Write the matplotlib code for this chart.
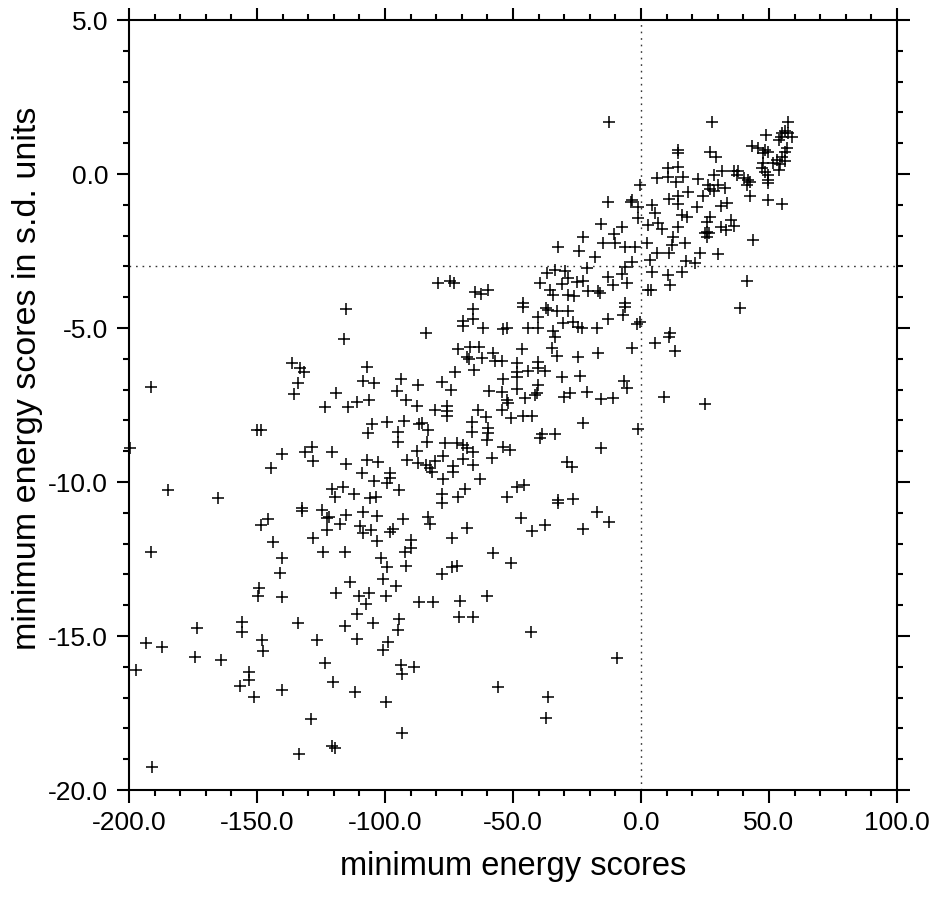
import matplotlib
matplotlib.use("Agg")
import matplotlib.pyplot as plt
from matplotlib.ticker import MultipleLocator, FormatStrFormatter

plt.rcParams['font.family'] = ['Liberation Sans', 'DejaVu Sans']

points = [
    # region 1
    (-136.5,-6.15),(-133.2,-6.31),(-131.5,-6.44),(-134.1,-6.80),(-135.4,-7.15),(-191.4,-6.93),(-150.1,-8.31),(-148.4,-8.31),
    (-140.1,-9.10),(-128.7,-8.85),(-131.3,-9.04),(-128.0,-9.32),(-144.7,-9.53),(-184.6,-10.26),(-165.4,-10.53),(-132.6,-10.85),
    (-132.6,-10.94),(-145.8,-11.21),(-148.4,-11.40),(-128.0,-11.81),(-143.9,-11.96),(-191.4,-12.28),(-140.1,-12.46),(-199.6,-8.90),
    # region 2
    (-141.0,-12.97),(-149.1,-13.45),(-149.5,-13.70),(-140.1,-13.72),(-173.6,-14.75),(-156.0,-14.53),(-156.0,-14.86),(-133.9,-14.57),
    (-193.5,-15.24),(-187.0,-15.35),(-148.2,-15.13),(-147.8,-15.49),(-126.7,-15.13),(-174.2,-15.67),(-164.2,-15.78),(-197.3,-16.10),
    (-153.0,-16.16),(-153.1,-16.43),(-156.6,-16.61),(-151.0,-16.99),(-140.4,-16.75),(-128.9,-17.69),(-133.5,-18.83),(-191.1,-19.26),
    # region 3
    (-79.2,-3.55),(-74.6,-3.49),(-73.0,-3.55),(-64.9,-3.82),(-62.5,-3.90),(-59.6,-3.77),(-115.2,-4.39),(-65.5,-4.39),(-65.8,-4.72),
    (-69.4,-4.76),(-69.4,-4.93),(-61.9,-5.00),(-53.8,-5.04),(-52.5,-5.00),(-84.0,-5.17),
    # region 4
    (-116.0,-5.36),(-71.4,-5.68),(-66.8,-5.61),(-63.2,-5.61),(-68.1,-5.93),(-67.1,-6.01),(-62.0,-5.98),(-57.9,-5.82),(-57.0,-6.07),
    (-54.4,-6.07),(-107.2,-6.28),(-72.7,-6.44),(-65.2,-6.36),(-108.5,-6.71),(-104.3,-6.80),(-93.9,-6.67),(-87.0,-6.85),(-77.9,-6.74),
    (-74.2,-7.01),(-53.8,-6.67),(-59.2,-7.05),(-54.4,-7.09),(-52.5,-7.34),(-51.8,-7.45),(-119.1,-7.10),(-123.4,-7.55),(-114.3,-7.55),
    (-110.8,-7.39),(-106.1,-7.34),(-95.4,-7.03),(-91.8,-7.34),(-87.6,-7.53),(-80.5,-7.66),(-75.9,-7.52),(-75.9,-7.69),(-75.9,-7.85),
    (-63.5,-7.66),(-60.7,-7.88),(-54.4,-7.66),(-50.9,-7.93),(-66.2,-8.06),(-66.2,-8.39),(-59.6,-8.26),(-59.6,-8.42),(-60.3,-8.64),
    (-105.2,-8.13),(-106.8,-8.40),(-99.4,-8.06),(-92.6,-8.02),(-86.7,-8.13),(-85.4,-8.09),(-83.1,-8.31),(-94.8,-8.37),(-94.8,-8.71),
    (-83.5,-8.69),(-76.6,-8.74),(-72.0,-8.74),(-69.7,-8.80),(-68.1,-8.91),(-65.5,-9.04),(-53.8,-8.85),(-51.2,-8.96),(-120.8,-9.04),
    (-115.2,-9.43),(-107.2,-9.29),(-102.6,-9.34),(-91.3,-9.29),(-87.4,-8.99),(-87.0,-9.39),(-84.0,-9.45),(-82.4,-9.56),(-81.8,-9.66),
    (-80.5,-9.32),(-77.2,-9.14),(-73.3,-9.48),(-73.3,-9.69),(-69.4,-9.25),(-65.8,-9.45),(-58.3,-9.21),(-109.1,-9.72),(-104.3,-9.97),
    (-98.1,-9.72),(-98.1,-9.88),(-99.4,-10.04),(-94.5,-10.26),(-77.5,-9.90),(-62.9,-9.90),(-120.8,-10.23),(-119.5,-10.48),
    (-116.3,-10.15),(-112.0,-10.39),(-105.9,-10.53),(-103.5,-10.48),(-77.9,-10.40),(-77.9,-10.69),(-71.4,-10.48),(-68.8,-10.23),
    (-52.5,-10.48),(-124.7,-10.91),(-121.7,-11.13),(-122.5,-11.18),(-115.2,-11.07),(-108.5,-10.96),(-103.0,-11.10),(-92.8,-11.20),
    (-83.1,-11.13),(-82.4,-11.37),(-122.8,-11.56),(-117.6,-11.37),(-109.8,-11.42),(-108.5,-11.67),(-105.6,-11.56),(-98.1,-11.61),
    (-97.0,-11.54),(-103.0,-11.90),(-90.0,-11.88),(-90.0,-12.13),(-92.2,-12.26),(-74.0,-11.83),(-68.1,-11.48),(-58.0,-12.32),
    (-50.9,-12.64),(-124.1,-12.28),(-115.6,-12.28),(-101.7,-12.46),(-99.4,-12.75),(-91.8,-12.72),(-73.9,-12.75),(-72.0,-12.72),
    # region 5
    (-77.9,-12.99),(-113.7,-13.24),(-100.7,-13.16),(-95.7,-13.38),(-119.1,-13.59),(-110.0,-13.70),(-106.1,-13.59),(-107.4,-13.96),
    (-99.6,-13.70),(-86.6,-13.91),(-81.4,-13.91),(-70.7,-13.85),(-60.3,-13.70),(-111.1,-14.29),(-115.6,-14.66),(-104.6,-14.59),
    (-94.5,-14.45),(-95.1,-14.81),(-71.0,-14.37),(-65.8,-14.37),(-111.1,-15.11),(-98.7,-15.18),(-100.7,-15.45),(-123.4,-15.89),
    (-93.9,-15.94),(-88.7,-16.00),(-93.5,-16.23),(-120.4,-16.48),(-111.7,-16.81),(-55.7,-16.64),(-99.6,-17.15),(-93.5,-18.16),
    (-120.8,-18.57),(-119.5,-18.65),
    # region 6
    (-12.4,1.70),(14.3,0.78),(14.3,0.67),(10.7,0.18),(14.6,0.24),(10.7,-0.09),(16.5,-0.09),(6.1,-0.14),(13.7,-0.25),(22.4,-0.17),
    (-0.4,-0.36),(18.2,-0.57),(10.9,-0.82),(14.6,-0.73),(14.6,-0.97),(24.3,-0.73),(21.8,-1.06),(-12.8,-0.90),(-3.6,-0.84),
    (-3.9,-0.90),(-1.3,-1.06),(4.2,-1.01),(5.5,-1.28),(15.9,-1.33),(17.8,-1.38),(-1.0,-1.44),
    # region 7
    (-15.6,-1.62),(-7.3,-1.73),(-10.4,-1.95),(-22.5,-2.04),(-32.3,-2.36),(-24.1,-2.49),(-14.7,-2.25),(-10.2,-2.25),(-6.3,-2.38),
    (-2.3,-2.36),(2.2,-2.25),(6.1,-2.55),(10.9,-2.58),(23.1,-2.58),(2.9,-1.66),(6.8,-1.60),(8.1,-1.77),(14.3,-1.71),(12.6,-2.04),
    (17.2,-2.25),(12.0,-2.31),(25.0,-1.93),(3.5,-2.79),(17.4,-2.81),(21.1,-2.90),(-18.0,-2.71),(-3.6,-2.85),(-6.3,-3.01),
    (-21.2,-3.06),(-29.7,-3.14),(-33.6,-3.12),(-36.9,-3.20),(4.2,-3.17),(15.9,-3.17),(10.4,-3.28),(-12.7,-3.36),(-7.5,-3.25),
    (-28.4,-3.39),(-25.1,-3.50),(-22.5,-3.46),(-39.5,-3.53),(-31.0,-3.57),(-10.8,-3.60),(-5.6,-3.53),(11.3,-3.60),(-35.6,-3.77),
    (-20.8,-3.79),(-16.7,-3.79),(-16.0,-3.85),(2.9,-3.75),(3.9,-3.77),(-34.2,-3.93),(-28.4,-3.93),(-26.0,-3.96),(-6.3,-4.20),
    (-6.3,-4.33),(-45.9,-4.20),(-45.9,-4.33),(-37.2,-4.36),(-36.2,-4.42),(-32.9,-4.44),(-28.4,-4.44),(-40.1,-4.63),(-6.9,-4.58),
    (-30.3,-4.85),(-26.4,-4.80),(-24.5,-4.96),(-23.2,-5.01),(-12.8,-4.72),(-17.3,-5.01),(-1.7,-4.87),(-0.4,-4.80),(-44.0,-5.01),
    (-40.4,-5.01),(-34.2,-5.09),(11.3,-5.17),
    # region 8
    (-33.6,-5.28),(-46.6,-5.68),(-34.9,-5.66),(-32.9,-5.90),(-24.7,-5.93),(-16.7,-5.82),(-3.6,-5.66),(5.5,-5.50),(10.9,-5.28),
    (13.3,-5.75),(-48.6,-6.15),(-40.4,-6.11),(-40.1,-6.31),(-37.5,-6.40),(-44.0,-6.40),(-48.6,-6.44),(-48.6,-6.58),(-30.7,-6.58),
    (-23.8,-6.55),(-6.5,-6.72),(-5.6,-6.96),(-40.1,-6.85),(-48.6,-6.98),(-45.3,-7.28),(-41.4,-7.18),(-40.8,-7.12),(-29.9,-7.23),
    (-27.7,-7.12),(-21.2,-7.09),(-15.6,-7.32),(-10.8,-7.26),(9.1,-7.23),(25.0,-7.48),(-45.9,-7.85),(-42.7,-7.85),(-22.5,-8.10),
    (-1.0,-8.28),(-38.8,-8.45),(-39.5,-8.56),(-33.6,-8.45),(-15.6,-8.91),(-29.0,-9.34),(-26.8,-9.50),(-45.6,-10.10),(-48.6,-10.15),
    (-32.3,-10.58),(-32.6,-10.69),(-26.4,-10.55),(-17.3,-10.98),(-12.5,-11.29),(-46.9,-11.16),(-42.5,-11.58),(-37.5,-11.40),
    (-22.8,-11.53),
    # region 9
    (-43.0,-14.86),(-9.2,-15.70),(-36.5,-16.97),(-37.1,-17.65),
    # region 10
    (27.9,1.70),(57.3,1.70),(48.8,1.27),(56.3,1.38),(55.2,1.32),(57.6,1.32),(59.1,1.19),(53.9,1.10),(54.7,1.21),(43.2,0.91),
    (45.8,0.83),(48.4,0.78),(47.8,0.67),(49.7,0.73),(56.9,0.83),(56.3,0.73),(27.0,0.70),(29.2,0.54),(55.0,0.54),(53.0,0.46),
    (51.7,0.37),(54.3,0.33),(56.3,0.43),(47.8,0.35),(47.1,0.18),(53.9,0.13),(48.4,0.08),(31.5,0.10),(28.6,-0.03),(36.5,0.10),
    (38.0,0.10),(37.4,-0.03),(40.4,-0.12),(41.7,-0.19),(42.6,-0.25),(41.3,-0.36),(49.7,-0.03),(49.7,-0.19),(49.7,-0.28),
    (26.3,-0.36),(27.0,-0.50),(30.0,-0.36),(32.8,-0.46),(28.6,-0.54),(42.6,-0.73),(49.7,-0.84),(55.2,-0.98),(31.3,-1.04),
    (33.5,-0.95),(27.0,-1.38),(25.7,-1.55),(31.3,-1.71),(33.1,-1.82),(35.2,-1.49),(36.5,-1.69),(25.7,-1.87),(26.6,-1.93),
    (25.7,-2.03),(43.9,-2.14),(29.9,-2.60),(41.3,-3.47),(38.7,-4.36),
]
energy_scores = [p[0] for p in points]
sd_scores = [p[1] for p in points]

x_label = "minimum energy scores"
y_label = "minimum energy scores in s.d. units"
ref_x = 0.0
ref_y = -3.0

fig = plt.figure(figsize=(9.40, 8.98), dpi=100)
ax = fig.add_axes([129/940, 1 - 790/898, 768/940, 770/898])

ax.plot(energy_scores, sd_scores, linestyle='none', marker='+', markersize=9,
        markeredgewidth=1.1, color='black', clip_on=False, zorder=3)

ax.axvline(ref_x, color='#333333', linestyle=(0, (1.2, 3.5)), linewidth=1.0, zorder=1)
ax.axhline(ref_y, color='#333333', linestyle=(0, (1.2, 3.5)), linewidth=1.0, zorder=1)

ax.set_xlim(-200, 100)
ax.set_ylim(-20, 5)
ax.xaxis.set_major_locator(MultipleLocator(50))
ax.xaxis.set_minor_locator(MultipleLocator(10))
ax.yaxis.set_major_locator(MultipleLocator(5))
ax.yaxis.set_minor_locator(MultipleLocator(1))
ax.xaxis.set_major_formatter(FormatStrFormatter('%.1f'))
ax.yaxis.set_major_formatter(FormatStrFormatter('%.1f'))

for s in ax.spines.values():
    s.set_linewidth(1.5)

ax.tick_params(which='both', direction='out', top=True, right=True, width=1.5, labelsize=19, pad=6)
ax.tick_params(which='major', length=9)
ax.tick_params(which='minor', length=4)

ax.set_xlabel(x_label, fontsize=23.5, labelpad=12)
ax.set_ylabel(y_label, fontsize=24.5)
ax.yaxis.set_label_coords(-0.112, 0.535)

fig.savefig("out.png", dpi=100)
